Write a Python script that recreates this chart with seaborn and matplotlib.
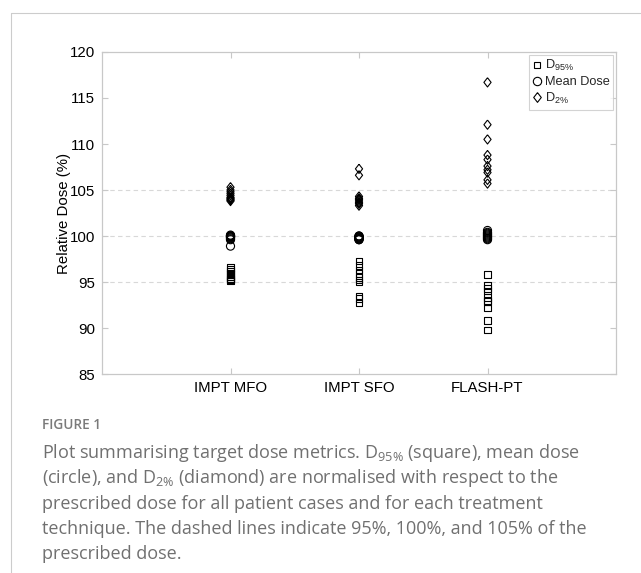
import matplotlib
matplotlib.use("Agg")
import matplotlib.pyplot as plt
from matplotlib.lines import Line2D
import numpy as np
import pandas as pd
import seaborn as sns

sns.set_theme(style="white")
plt.rcParams["font.family"] = ["Liberation Sans", "DejaVu Sans"]

# valores (dose relativa, %)
tecnicas = ["IMPT MFO", "IMPT SFO", "FLASH-PT"]

d95_mfo = [96.6, 96.4, 96.2, 96.0, 95.8, 95.6, 95.4, 95.3, 95.2, 95.1]
mean_mfo = [100.1, 100.0, 100.0, 99.9, 99.8, 99.9, 99.7, 100.0, 99.6, 98.9]
d2_mfo = [105.3, 105.0, 104.8, 104.6, 104.4, 104.2, 104.0, 103.9, 103.8, 104.1]

d95_sfo = [97.3, 96.8, 96.3, 95.9, 95.5, 95.2, 95.0, 93.5, 93.2, 92.7]
mean_sfo = [100.0, 99.9, 99.8, 99.7, 99.6, 100.0, 99.9, 99.8, 99.7, 99.6]
d2_sfo = [107.3, 106.6, 104.3, 104.1, 103.9, 103.7, 103.5, 103.3, 104.0, 103.6]

d95_flash = [95.8, 94.6, 94.0, 93.3, 92.9, 92.2, 90.8, 89.8, 93.0, 94.3]
mean_flash = [100.6, 100.4, 100.2, 100.0, 99.9, 99.8, 99.7, 99.6, 100.3, 100.1]
d2_flash = [116.7, 112.1, 110.5, 108.8, 108.3, 107.6, 106.9, 106.1, 105.7, 107.2]

linhas_ref = [95, 100, 105]
yticks = [85, 90, 95, 100, 105, 110, 115, 120]

# tabela longa
registros = []
for tec, d95, media, d2 in zip(
    tecnicas,
    [d95_mfo, d95_sfo, d95_flash],
    [mean_mfo, mean_sfo, mean_flash],
    [d2_mfo, d2_sfo, d2_flash],
):
    for v in d95:
        registros.append((tec, "D95", v))
    for v in media:
        registros.append((tec, "Mean", v))
    for v in d2:
        registros.append((tec, "D2", v))
df = pd.DataFrame(registros, columns=["Tecnica", "Metrica", "Dose"])
df["Tecnica"] = pd.Categorical(df["Tecnica"], categories=tecnicas, ordered=True)

diamante = [(0, 1), (0.78, 0), (0, -1), (-0.78, 0), (0, 1)]
estilos = {
    "D95": dict(marker="s", s=22),
    "Mean": dict(marker="o", s=34),
    "D2": dict(marker=diamante, s=44),
}

fig = plt.figure(figsize=(6.41, 5.73), dpi=100)
ax = fig.add_axes([102 / 641, 1 - 374 / 573, 514 / 641, 322 / 573])

cinza = "#c8c8c8"
for y in linhas_ref:
    ax.axhline(y, color="#d8d8d8", lw=0.8, ls=(0, (4, 3)), zorder=0)

for metrica, kw in estilos.items():
    sub = df[df["Metrica"] == metrica]
    sns.scatterplot(
        data=sub,
        x="Tecnica",
        y="Dose",
        ax=ax,
        facecolor="none",
        edgecolor="black",
        linewidth=0.8,
        legend=False,
        zorder=3,
        **kw,
    )

ax.set_xlim(-1, 3)
ax.set_ylim(85, 120)
ax.set_yticks(yticks)
ax.set_xticks(range(len(tecnicas)))
ax.set_xticklabels(tecnicas)
ax.set_xlabel("")
ax.set_ylabel("Relative Dose (%)", fontsize=10.8, color="black")
ax.yaxis.set_label_coords(-0.061, 0.5)
ax.tick_params(
    axis="both", direction="in", length=4, width=0.8, color=cinza,
    labelsize=10.8, labelcolor="black", top=True, right=True,
    bottom=True, left=True, pad=5,
)
for sp in ax.spines.values():
    sp.set_color(cinza)
    sp.set_linewidth(0.9)
ax.grid(False)

handles = [
    Line2D([], [], ls="none", marker="s", ms=5, mfc="none", mec="black", mew=0.8),
    Line2D([], [], ls="none", marker="o", ms=6, mfc="none", mec="black", mew=0.8),
    Line2D([], [], ls="none", marker=diamante, ms=7, mfc="none", mec="black", mew=0.8),
]
leg = ax.legend(
    handles,
    ["$\\mathregular{D_{95\\%}}$", "Mean Dose", "$\\mathregular{D_{2\\%}}$"],
    loc="upper right",
    fontsize=9.2,
    frameon=True,
    fancybox=False,
    handlelength=0.6,
    handletextpad=0.3,
    borderpad=0.3,
    labelspacing=0.2,
    borderaxespad=0.2,
)
leg.get_frame().set_edgecolor(cinza)
leg.get_frame().set_linewidth(0.8)

# moldura da pagina
fig.add_artist(Line2D([11 / 641, 11 / 641], [0, 1 - 13 / 573], color="#cccccc", lw=0.8))
fig.add_artist(Line2D([11 / 641, 1], [1 - 13 / 573, 1 - 13 / 573], color="#cccccc", lw=0.8))

# legenda da figura
cor_texto = "#707070"
fonte_leg = ["Open Sans", "DejaVu Sans"]
fig.text(42 / 641, 1 - 425 / 573, "FIGURE 1", fontsize=9.8, fontweight="semibold",
         color="#7a7a7a", family=fonte_leg, va="center")
linhas_texto = [
    "Plot summarising target dose metrics. D$\\mathregular{_{95\\%}}$ (square), mean dose",
    "(circle), and D$\\mathregular{_{2\\%}}$ (diamond) are normalised with respect to the",
    "prescribed dose for all patient cases and for each treatment",
    "technique. The dashed lines indicate 95%, 100%, and 105% of the",
    "prescribed dose.",
]
for i, t in enumerate(linhas_texto):
    fig.text(42 / 641, 1 - (453 + 25.3 * i) / 573, t, fontsize=13.0,
             color=cor_texto, family=fonte_leg, va="center")

fig.savefig("out.png", dpi=100)
